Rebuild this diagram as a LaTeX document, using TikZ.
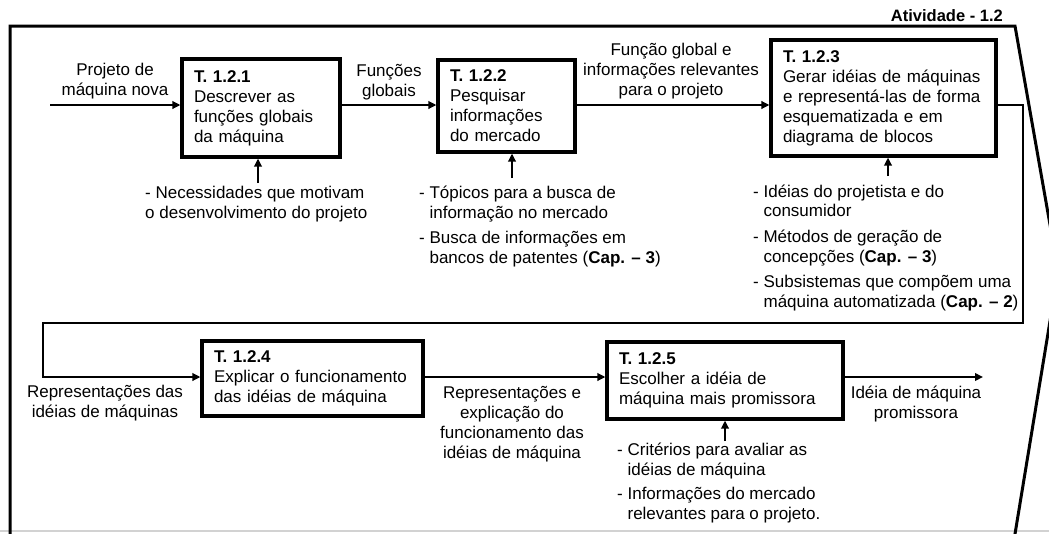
\documentclass[tikz,border=0pt]{standalone}
\usepackage{fontspec}
\setmainfont{Liberation Sans}
\usetikzlibrary{arrows.meta}

\begin{document}
\begin{tikzpicture}[
            x=1pt, y=-1pt,
            every node/.style={font=\fontsize{17}{20}\selectfont},
            task/.style={draw, line width=3.2pt, align=left, inner xsep=12pt, inner ysep=0pt},
            note/.style={align=center, inner sep=0pt},
            ctrl/.style={align=left, inner sep=0pt, anchor=west},
            flow/.style={line width=2.5pt, -{Triangle[length=8pt,width=7.5pt]}},
            frame/.style={line width=3pt}]
        \clip (0,0) rectangle (1049,533);
        \draw[gray!35, line width=1.2pt] (0,531) -- (1049,531);
        \draw[frame] (10,540) -- (10,26) -- (1015,26) -- (1052,236);
        \draw[frame] (1052,309) -- (1014,540);
        \node[font=\fontsize{16.5}{19}\selectfont\bfseries, anchor=east, inner sep=0pt] (title) at (1003,16) {Atividade - 1.2};

        \node[task, text width=134pt, minimum height=98pt] (b1) at (261,108)
            {\textbf{T. 1.2.1}\\Descrever as\\funções globais\\da máquina};
        \node[task, text width=113pt, minimum height=92pt] (b2) at (506.5,106)
            {\textbf{T. 1.2.2}\\Pesquisar\\informações\\do mercado};
        \node[task, text width=201pt, minimum height=116pt] (b3) at (883.5,98)
            {\textbf{T. 1.2.3}\\Gerar idéias de máquinas\\e representá-las de forma\\esquematizada e em\\diagrama de blocos};
        \node[task, text width=197pt, minimum height=75pt] (b4) at (312.5,378.5)
            {\textbf{T. 1.2.4}\\Explicar o funcionamento\\das idéias de máquina};
        \node[task, text width=212pt, minimum height=77pt] (b5) at (725,380.5)
            {\textbf{T. 1.2.5}\\Escolher a idéia de\\máquina mais promissora};

        \coordinate (src) at (50,105);
        \coordinate (sink) at (983,377);
        \coordinate (loopR) at (1023,323);
        \coordinate (loopL) at (43,323);
        \coordinate (m1) at (258,183);
        \coordinate (m2) at (512,178);
        \coordinate (m3) at (888,176);
        \coordinate (m5) at (725,441);

        \draw[flow] (src) -- (b1.west |- src);
        \draw[flow] (b1.east |- src) -- (b2.west |- src);
        \draw[flow] (b2.east |- src) -- (b3.west |- src);
        \draw[flow] (b3.east |- src) -| (loopR) -- (loopL) |- (b4.west |- sink);
        \draw[flow] (b4.east |- sink) -- (b5.west |- sink);
        \draw[flow] (b5.east |- sink) -- (sink);
        \draw[flow] (m1) -- (m1 |- b1.south);
        \draw[flow] (m2) -- (m2 |- b2.south);
        \draw[flow] (m3) -- (m3 |- b3.south);
        \draw[flow] (m5) -- (m5 |- b5.south);

        \node[note] (newproj) at (115,81) {Projeto de\\máquina nova};
        \node[note] (globfun) at (389,82.5) {Funções\\globais};
        \node[note] (globinfo) at (671,71.5) {Função global e\\informações relevantes\\para o projeto};
        \node[note] (reps) at (105,403.5) {Representações das\\idéias de máquinas};
        \node[note] (repexp) at (512,424.5) {Representações e\\explicação do\\funcionamento das\\idéias de máquina};
        \node[note] (bestidea) at (916,404) {Idéia de máquina\\promissora};

        \node[ctrl] (needs) at (145,204.5)
            {- Necessidades que motivam\\o desenvolvimento do projeto};
        \node[ctrl] (market) at (419,227)
            {- Tópicos para a busca de\\\phantom{- }informação no mercado\\[5pt]
             - Busca de informações em\\\phantom{- }bancos de patentes (\textbf{Cap. – 3})};
        \node[ctrl] (ideas) at (753,247.5)
            {- Idéias do projetista  e do\\\phantom{- }consumidor\\[5pt]
             - Métodos de geração de\\\phantom{- }concepções (\textbf{Cap. – 3})\\[5pt]
             - Subsistemas que compõem uma\\\phantom{- }máquina automatizada (\textbf{Cap. – 2})};
        \node[ctrl] (criteria) at (617,483)
            {- Critérios para avaliar as\\\phantom{- }idéias de máquina\\[4pt]
             - Informações do mercado\\\phantom{- }relevantes para o projeto.};
    \end{tikzpicture}
\end{document}
